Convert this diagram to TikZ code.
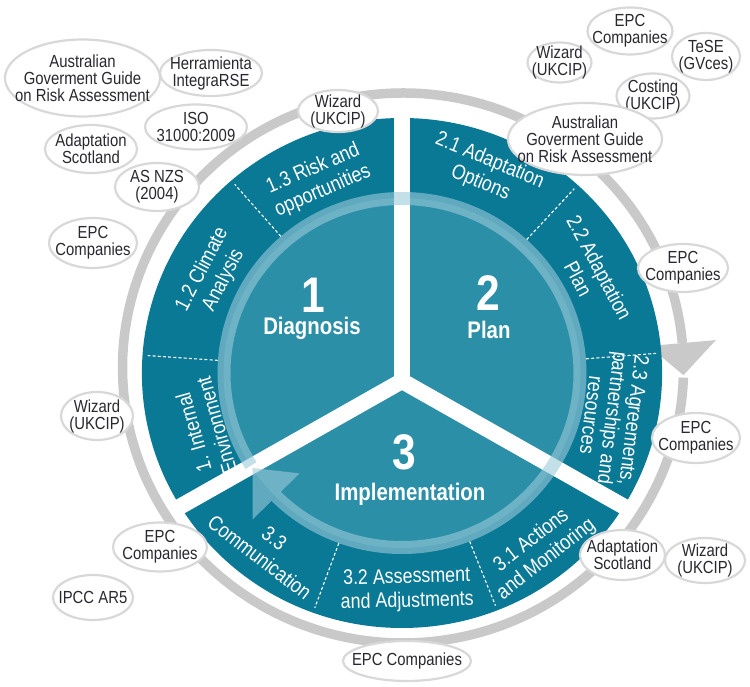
\documentclass[tikz,border=0pt]{standalone}
\usepackage{fontspec}
\setmainfont{Liberation Sans}[FakeStretch=0.85]
\usetikzlibrary{shapes.geometric}
\definecolor{tealdark}{RGB}{10,121,150}
\definecolor{tealmid}{RGB}{44,143,168}
\definecolor{ringlight}{RGB}{155,202,217}
\definecolor{ringgray}{RGB}{201,201,201}
\definecolor{ellgray}{RGB}{216,216,216}
\definecolor{txtdark}{RGB}{40,40,48}
\newcommand\bub[6]{%
  \filldraw[ellline] (#2,#3) ellipse[x radius=#4, y radius=#5];
  \node[elltxt] (#1) at (#2,#3) {#6};}
\begin{document}
\begin{tikzpicture}[x=1pt,y=1pt,
  ellline/.style={fill=white, draw=ellgray, line width=2.2pt},
  elltxt/.style={inner sep=0pt, align=center, text=txtdark, font=\fontsize{17.5}{17}\selectfont},
  seglab/.style={text=white, align=center, inner sep=0pt, font=\fontsize{21}{24}\selectfont},
  numlab/.style={text=white, inner sep=0pt, font=\fontsize{50}{50}\selectfont\bfseries},
  titlab/.style={text=white, inner sep=0pt, font=\fontsize{24}{24}\selectfont\bfseries},
  sepdash/.style={white, line width=1.1pt, dash pattern=on 3pt off 2.2pt}]
\useasboundingbox (-402,-314) rectangle (348,373);
\begin{scope}[xscale=1.02]
  % outer gray cycle arrow
  \draw[ringgray, line width=9.5] (1,5) ++(5.2:275) arc[start angle=5.2, end angle=358, radius=275];
  \fill[ringgray, shift={(1,5)}] (5.2:242) -- (5.2:308) -- (-1.5:275) -- cycle;
  % disk
  \fill[tealdark] (0,0) circle[radius=255];
  \fill[tealmid] (0,0) circle[radius=175];
  \foreach \a in {131,176,47.5,4.5,250,291.5} \draw[sepdash] (\a:181) -- (\a:250);
  % white separators
  \coordinate (yc) at (0,-8);
  \draw[white, line width=16] (yc) -- ++(90:266);
  \draw[white, line width=16] (yc) -- ++(210:258);
  \draw[white, line width=16] (yc) -- ++(330:258);
  % inner light cycle arrow
  \draw[ringlight, opacity=0.6, line width=13] (225:174.5) arc[start angle=225, end angle=572, radius=174.5];
  \fill[ringlight, opacity=0.6] (225:142) -- (225:207) -- (213:174.5) -- cycle;
\end{scope}
% segment labels
\node[seglab, rotate=23.5] (s13) at (-84,193) {1.3 Risk and\\opportunities};
\node[seglab, rotate=62.6] (s12) at (-189,98) {1.2 Climate\\Analysis};
\node[seglab, rotate=105.9] (s11) at (-197,-56) {1. Internal\\Environment};
\node[seglab, rotate=-22.4] (s21) at (83,201) {2.1 Adaptation\\Options};
\node[seglab, rotate=-62] (s22) at (187,100) {2.2 Adaptation\\Plan};
\node[seglab, rotate=-97, font=\fontsize{21}{21.5}\selectfont] (s23) at (211,-45) {2.3 Agreements,\\partnerships and\\resources};
\node[seglab, rotate=38] (s31) at (137,-177) {3.1 Actions\\and Monitoring};
\node[seglab, rotate=1.5] (s32) at (5,-217) {3.2 Assessment\\and Adjustments};
\node[seglab, rotate=-37.6] (s33) at (-135,-175) {3.3\\Communication};
% centre titles
\node[numlab] (n1) at (-89,78) {1};
\node[titlab] (t1) at (-90,45) {Diagnosis};
\node[numlab] (n2) at (86,80) {2};
\node[titlab] (t2) at (87,43) {Plan};
\node[numlab] (n3) at (2,-79) {3};
\node[titlab] (t3) at (8,-121) {Implementation};
% tool bubbles
\bub{e1}{-319.5}{295}{77.5}{38.5}{Australian\\Goverment Guide\\on Risk Assessment}
\bub{e2}{-191}{300}{51}{23}{Herramienta\\IntegraRSE}
\bub{e3}{-206}{246}{51}{22.5}{ISO\\31000:2009}
\bub{e4}{-311}{224}{46}{24}{Adaptation\\Scotland}
\bub{e5}{-245}{186}{42}{24}{AS NZS\\(2004)}
\bub{e6}{-309}{130}{44}{25}{EPC\\Companies}
\bub{e7}{-64}{262}{40}{21}{Wizard\\(UKCIP)}
\bub{e8}{157.5}{310.5}{32}{20}{Wizard\\(UKCIP)}
\bub{e9}{228}{342}{42.5}{23.5}{EPC\\Companies}
\bub{e10}{304}{316.5}{34}{23.5}{TeSE\\(GVces)}
\bub{e11}{251}{277}{36.5}{22.5}{Costing\\(UKCIP)}
\bub{e12}{183}{234}{77}{36}{Australian\\Goverment Guide\\on Risk Assessment}
\bub{e13}{281}{105}{45}{24}{EPC\\Companies}
\bub{e14}{294}{-65}{44}{25}{EPC\\Companies}
\bub{e15}{-305}{-43}{36}{24}{Wizard\\(UKCIP)}
\bub{e16}{-242}{-174}{47}{24.5}{EPC\\Companies}
\bub{e17}{-309}{-224.5}{40}{22.5}{IPCC AR5}
\bub{e18}{220.5}{-182}{42.5}{25}{Adaptation\\Scotland}
\bub{e19}{303}{-187.5}{40}{22.5}{Wizard\\(UKCIP)}
\bub{e20}{5}{-288}{64}{20}{EPC Companies}
\end{tikzpicture}
\end{document}
